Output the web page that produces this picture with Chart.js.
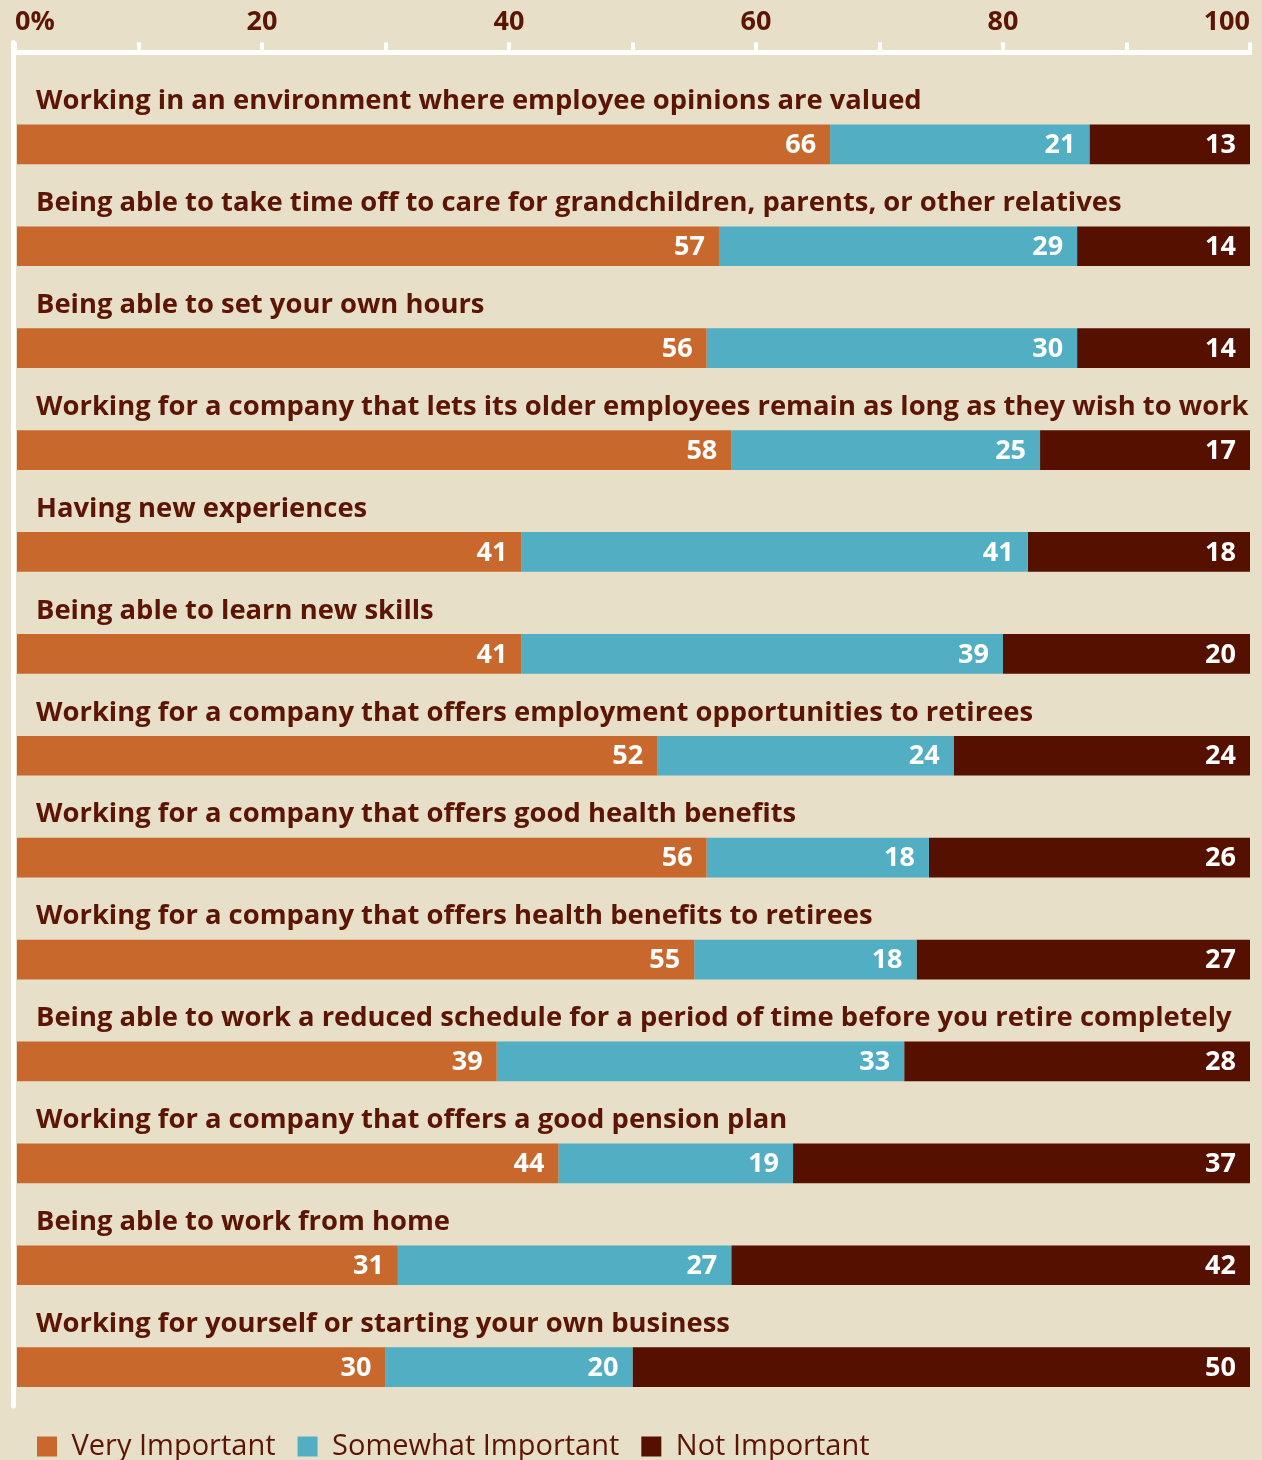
<!DOCTYPE html>
<html>
<head>
<meta charset="utf-8">
<script src="https://cdn.jsdelivr.net/npm/chart.js@4.4.1/dist/chart.umd.min.js"></script>
<style>
  html, body { margin: 0; padding: 0; background: #e7dfc8; overflow: hidden; }
  .wrap { width: 1262px; height: 1460px; position: relative; }
</style>
</head>
<body>
<div class="wrap"><canvas id="chart"></canvas></div>
<script>
// Data
const categories = [
  'Working in an environment where employee opinions are valued',
  'Being able to take time off to care for grandchildren, parents, or other relatives',
  'Being able to set your own hours',
  'Working for a company that lets its older employees remain as long as they wish to work',
  'Having new experiences',
  'Being able to learn new skills',
  'Working for a company that offers employment opportunities to retirees',
  'Working for a company that offers good health benefits',
  'Working for a company that offers health benefits to retirees',
  'Being able to work a reduced schedule for a period of time before you retire completely',
  'Working for a company that offers a good pension plan',
  'Being able to work from home',
  'Working for yourself or starting your own business'
];
const veryImportant     = [66, 57, 56, 58, 41, 41, 52, 56, 55, 39, 44, 31, 30];
const somewhatImportant = [21, 29, 30, 25, 41, 39, 24, 18, 18, 33, 19, 27, 20];
const notImportant      = [13, 14, 14, 17, 18, 20, 24, 26, 27, 28, 37, 42, 50];
const seriesNames = ['Very Important', 'Somewhat Important', 'Not Important'];
const tickLabels = ['0%', '20', '40', '60', '80', '100'];

const textColor = '#5c1505';
const fontFamily = '"Open Sans", "Noto Sans", sans-serif';

// push the category bands down so each label sits above its bar
const bandLayout = {
  id: 'bandLayout',
  afterLayout(chart) {
    const y = chart.scales.y;
    y.top = chart.chartArea.top + 41;
    y.bottom = y.top + categories.length * 101.9;
    y.configure();
  }
};

// white vertical line on the left
const leftLine = {
  id: 'leftLine',
  beforeDatasetsDraw(chart) {
    const ctx = chart.ctx;
    const x = chart.scales.x.getPixelForValue(0) - 1.5;
    ctx.save();
    ctx.strokeStyle = '#ffffff';
    ctx.lineWidth = 5;
    ctx.lineCap = 'round';
    ctx.beginPath();
    ctx.moveTo(x, chart.chartArea.top - 10);
    ctx.lineTo(x, chart.chartArea.bottom - 4);
    ctx.stroke();
    ctx.restore();
  }
};

// numbers at the right end of each segment
const valueLabels = {
  id: 'valueLabels',
  afterDatasetsDraw(chart) {
    const ctx = chart.ctx;
    ctx.save();
    ctx.font = 'bold 27px ' + fontFamily;
    ctx.fillStyle = '#ffffff';
    ctx.textAlign = 'right';
    ctx.textBaseline = 'middle';
    chart.data.datasets.forEach((ds, i) => {
      chart.getDatasetMeta(i).data.forEach((bar, j) => {
        ctx.fillText(ds.data[j], bar.x - 14, bar.y + 1);
      });
    });
    ctx.restore();
  }
};

const ctx = document.getElementById('chart').getContext('2d');
new Chart(ctx, {
  type: 'bar',
  data: {
    labels: categories,
    datasets: [
      { label: seriesNames[0], data: veryImportant, backgroundColor: '#c8682c', borderColor: '#c8682c', borderWidth: 0 },
      { label: seriesNames[1], data: somewhatImportant, backgroundColor: '#52aec2', borderColor: '#52aec2', borderWidth: 0 },
      { label: seriesNames[2], data: notImportant, backgroundColor: '#561000', borderColor: '#561000', borderWidth: 0 }
    ]
  },
  options: {
    indexAxis: 'y',
    responsive: true,
    maintainAspectRatio: false,
    animation: false,
    layout: { padding: { left: 15, right: 12, top: 2, bottom: 0 } },
    datasets: { bar: { categoryPercentage: 1, barPercentage: 0.39 } },
    scales: {
      x: {
        position: 'top',
        stacked: true,
        min: 0,
        max: 100,
        grid: { drawOnChartArea: false, drawTicks: true, tickLength: 10, color: '#ffffff', lineWidth: 4 },
        border: { display: true, color: '#ffffff', width: 5 },
        ticks: {
          stepSize: 10,
          autoSkip: false,
          maxRotation: 0,
          align: 'inner',
          padding: 4,
          color: textColor,
          font: { family: fontFamily, size: 27, weight: 'bold' },
          callback: v => (v % 20 === 0 ? tickLabels[v / 20] : '')
        }
      },
      y: {
        stacked: true,
        afterFit: scale => { scale.width = 0; },
        grid: { display: false, drawTicks: false },
        border: { display: false },
        ticks: {
          mirror: true,
          autoSkip: false,
          padding: 21,
          labelOffset: -43,
          color: textColor,
          font: { family: fontFamily, size: 27.4, weight: 'bold' }
        }
      }
    },
    plugins: {
      legend: {
        position: 'bottom',
        align: 'start',
        maxHeight: 50,
        labels: {
          boxWidth: 20,
          boxHeight: 20,
          padding: 22,
          color: textColor,
          font: { family: fontFamily, size: 29 }
        }
      },
      tooltip: { enabled: false }
    }
  },
  plugins: [bandLayout, leftLine, valueLabels]
});
</script>
</body>
</html>
